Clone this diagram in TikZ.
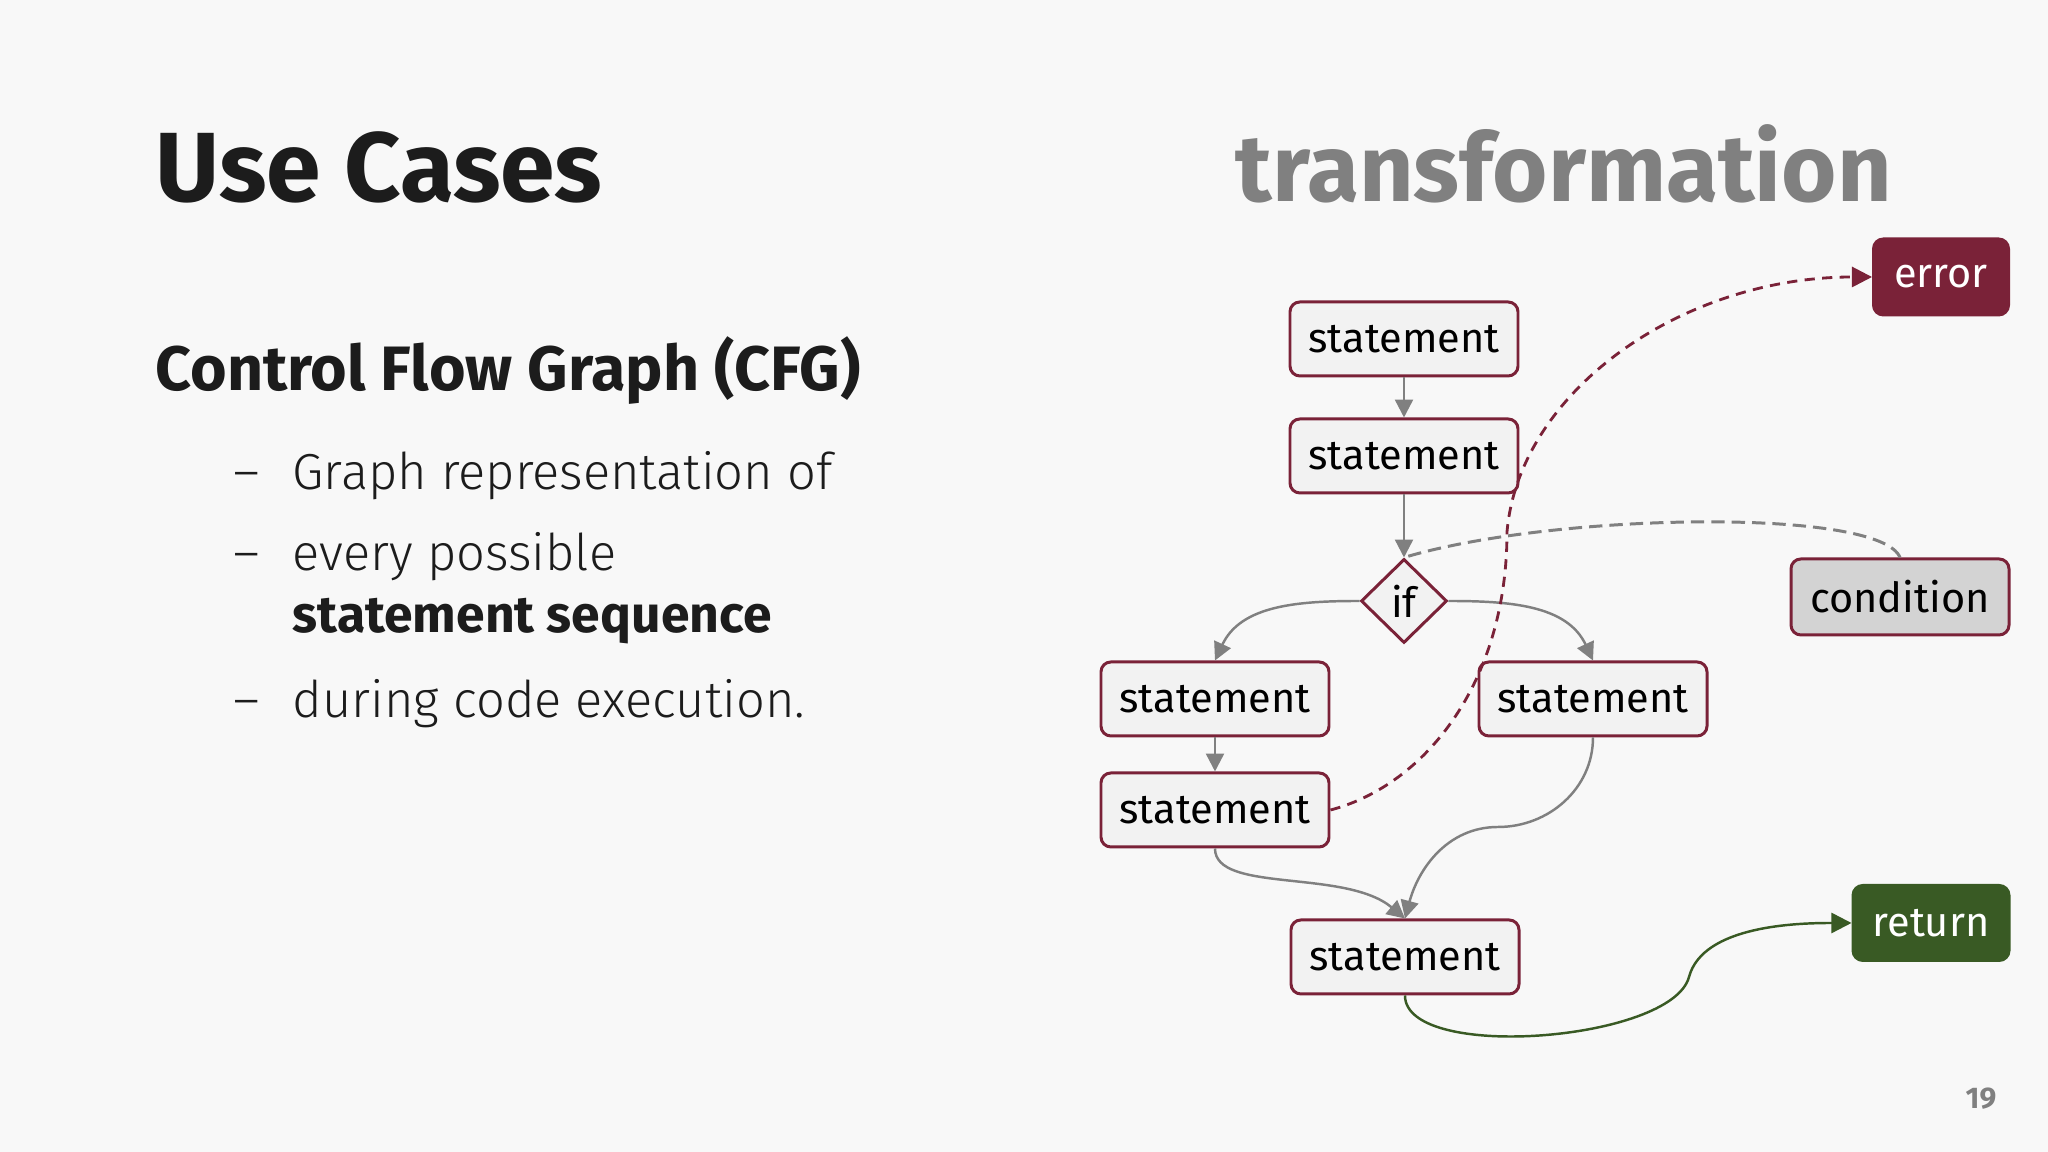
\documentclass[tikz,border=0pt]{standalone}
\usepackage{fontspec}
\setmainfont{Fira Sans}
\IfFontExistsTF{Fira Sans Light}{\newfontfamily\tonkij{Fira Sans Light}}{\newfontfamily\tonkij{Fira Sans}}
\usetikzlibrary{arrows.meta, shapes.geometric}

\definecolor{fonbg}{HTML}{F8F8F8}
\definecolor{titul}{HTML}{1C1C1C}
\definecolor{bordo}{HTML}{7A2238}
\definecolor{zelen}{HTML}{395A24}
\definecolor{seryj}{HTML}{808080}
\definecolor{svetlo}{HTML}{F2F2F2}
\definecolor{uslov}{HTML}{D3D3D3}

\tikzset{
  txt/.style={anchor=base west, inner sep=0pt, text=titul},
  punkt/.style={txt, font=\tonkij\fontsize{14.4}{17.6}\selectfont},
  stmt/.style={draw=bordo, fill=svetlo, line width=0.85pt, rounded corners=2.8pt,
    minimum width=2.28cm, minimum height=0.74cm, inner sep=0pt,
    font=\fontsize{11.8}{14}\selectfont},
  flow/.style={seryj, line width=0.7pt, -{Triangle[length=5.1pt,width=5.1pt]}}
}

\begin{document}
\begin{tikzpicture}
				% Фон слайда
				\fill[fonbg] (0,0) rectangle (20.48,11.52);
				\useasboundingbox (0,0) rectangle (20.48,11.52);
				
				% Заголовки
				\node[txt, font=\bfseries\fontsize{28}{32}\selectfont] (T) at (1.55,9.50) {Use Cases};
				\node[txt, text=seryj, font=\bfseries\fontsize{27}{32}\selectfont] (TR) at (12.35,9.50) {transformation};
				\node[txt, font=\bfseries\fontsize{17.85}{20}\selectfont] (H) at (1.55,7.61) {Control Flow Graph (CFG)};
				
				% Пункты списка
				\node[punkt] (D1) at (2.33,6.62) {–};
				\node[punkt] (L1) at (2.92,6.62) {Graph representation of};
				\node[punkt] (D2) at (2.33,5.81) {–};
				\node[punkt] (L2) at (2.92,5.81) {every possible};
				\node[txt, font=\bfseries\fontsize{14.7}{17.6}\selectfont] (L3) at (2.92,5.19) {statement sequence};
				\node[punkt] (D3) at (2.33,4.34) {–};
				\node[punkt] (L4) at (2.92,4.34) {during code execution.};
				
				% Номер слайда
				\node[anchor=base east, inner sep=0pt, text=seryj, font=\bfseries\fontsize{8.5}{10}\selectfont] (N) at (19.97,0.43) {19};
				
				% Вершины графа
				\node[stmt] (S1) at (14.04,8.13) {statement};
				\node[stmt] (S2) at (14.04,6.96) {statement};
				\node[stmt, diamond, rounded corners=0pt, minimum width=0.86cm, minimum height=0.84cm] (If) at (14.04,5.51) {if};
				\node[stmt] (S3) at (12.15,4.53) {statement};
				\node[stmt] (S4) at (12.15,3.42) {statement};
				\node[stmt] (S5) at (15.93,4.53) {statement};
				\node[stmt] (S6) at (14.05,1.95) {statement};
				\node[stmt, fill=bordo, text=white, minimum width=1.35cm, minimum height=0.76cm] (E) at (19.41,8.75) {error};
				\node[stmt, fill=uslov, minimum width=2.18cm, minimum height=0.76cm] (C) at (19.00,5.55) {condition};
				\node[stmt, draw=zelen, fill=zelen, text=white, minimum width=1.56cm, minimum height=0.75cm] (R) at (19.31,2.29) {return};
				
				% Переходы
				\coordinate (P) at (14.98,3.25);
				\draw[flow] (S1) -- (S2);
				\draw[flow] (S2) -- (If);
				\draw[flow] (If.west) to[out=180,in=65] (S3.north);
				\draw[flow] (If.east) to[out=0,in=115] (S5.north);
				\draw[flow] (S3) -- (S4);
				\draw[flow] (S4.south) .. controls +(0,-0.45) and +(-0.6,0.5) .. (S6.north);
				\draw[flow] (S5.south) to[out=-90,in=0] (P) to[out=180,in=75] (S6.north);
				
				% Пунктирные связи
				\coordinate (K) at (15.07,6.2);
				\coordinate (G) at (16.89,1.75);
				\draw[bordo, line width=0.8pt, dash pattern=on 2.9pt off 2.1pt, -{Triangle[length=5.7pt,width=5.7pt]}]
					(S4.east) .. controls +(0.95,0.25) and +(0,-1.5) .. (K)
					.. controls +(0.12,1.4) and +(-1.91,0) .. (E.west);
				\draw[seryj, line width=0.85pt, dash pattern=on 3.8pt off 2pt]
					(C.north) .. controls +(-0.2,0.5) and +(1.5,0.45) .. (If.north);
				\draw[zelen, line width=0.7pt, -{Triangle[length=5.7pt,width=5.7pt]}]
					(S6.south) to[out=-90,in=-105,looseness=0.6] (G) to[out=75,in=180,looseness=0.8] (R.west);
			\end{tikzpicture}
\end{document}
